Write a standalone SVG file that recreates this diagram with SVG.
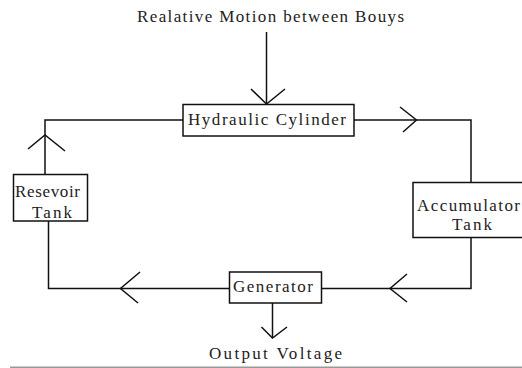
<svg xmlns="http://www.w3.org/2000/svg" width="522" height="368" viewBox="0 0 522 368">
<style>
.ln{fill:none;stroke:#111;stroke-width:1.5}
.bx{fill:#fff;stroke:#111;stroke-width:1.5}
.t{font-family:"Liberation Serif","Times New Roman",serif;font-size:17px;fill:#222}
</style>
<rect width="522" height="368" fill="#fff"/>
<g id="connectors">
<path class="ln" d="M266.5,32 V104"/>
<polyline class="ln" points="251,89 266.5,104 285,89"/>
<path class="ln" d="M354,120 H471 V182"/>
<polyline class="ln" points="400,107 416.5,120 403,132"/>
<path class="ln" d="M183,120 H45 V174"/>
<polyline class="ln" points="28,149 45,135 65,151"/>
<path class="ln" d="M471,237 V288.5 H322"/>
<polyline class="ln" points="407,274 390,288.5 407,302"/>
<path class="ln" d="M229,288.5 H48.5 V221"/>
<polyline class="ln" points="140,272 120.5,288.5 138,303"/>
<path class="ln" d="M272.5,303 V338"/>
<polyline class="ln" points="261.5,327 272.5,338 287,327"/>
</g>
<g id="input-label"><text class="t" x="137" y="22" font-size="16" textLength="267" lengthAdjust="spacing">Realative Motion between Bouys</text></g>
<g id="hydraulic-cylinder">
<rect class="bx" x="183" y="104.5" width="171" height="31.5"/>
<text class="t" x="188" y="125" textLength="158" lengthAdjust="spacing">Hydraulic Cylinder</text>
</g>
<g id="accumulator-tank">
<rect class="bx" x="413" y="182.5" width="120" height="55"/>
<text class="t" x="417" y="211" textLength="103" lengthAdjust="spacing">Accumulator</text>
<text class="t" x="452" y="230" textLength="40" lengthAdjust="spacing">Tank</text>
</g>
<g id="resevoir-tank">
<rect class="bx" x="13.5" y="174.5" width="74" height="46.5"/>
<text class="t" x="15" y="197" textLength="65" lengthAdjust="spacing">Resevoir</text>
<text class="t" x="32" y="218" textLength="40" lengthAdjust="spacing">Tank</text>
</g>
<g id="generator">
<rect class="bx" x="229.5" y="272" width="92" height="31"/>
<text class="t" x="233" y="292" textLength="80" lengthAdjust="spacing">Generator</text>
</g>
<g id="output-label"><text class="t" x="209" y="359" textLength="133" lengthAdjust="spacing">Output Voltage</text></g>
<line x1="10" y1="367.3" x2="522" y2="367.3" stroke="#999" stroke-width="1.5"/>
</svg>
